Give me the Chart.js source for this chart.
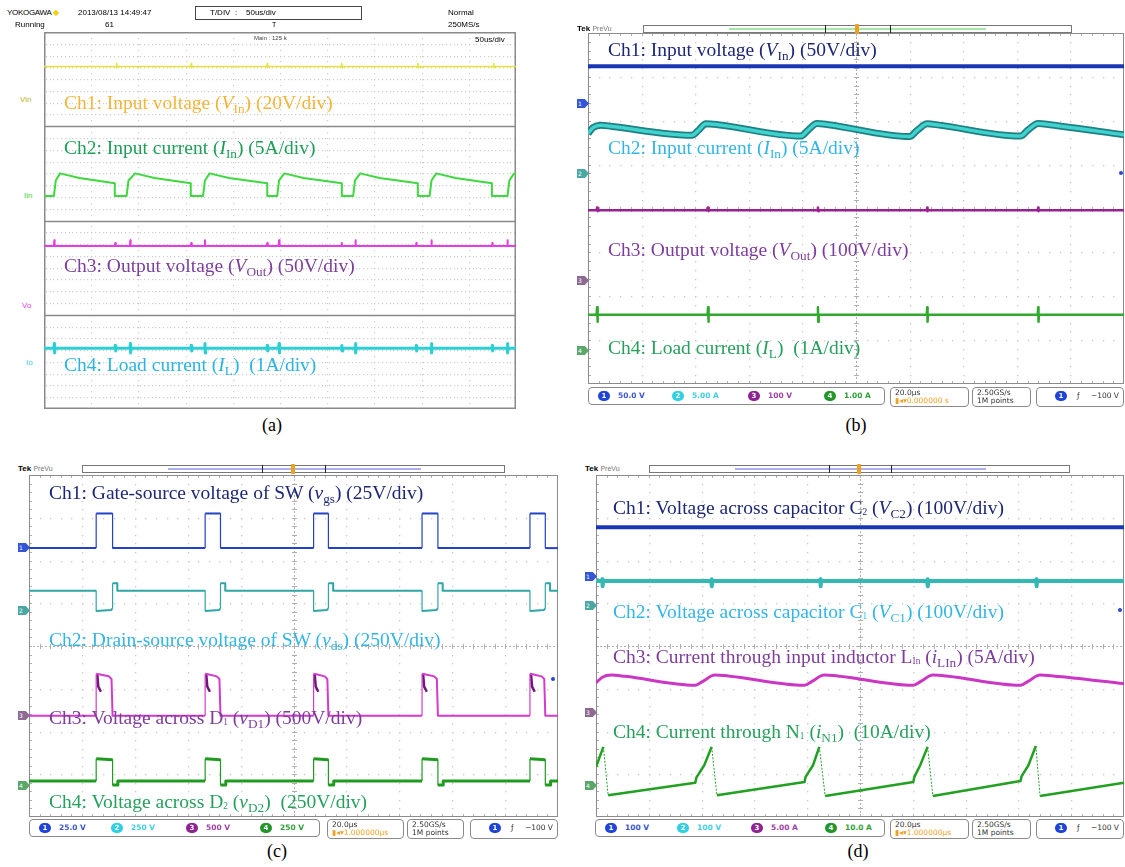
<!DOCTYPE html>
<html><head><meta charset="utf-8">
<script src="https://cdn.jsdelivr.net/npm/chart.js@4.4.1/dist/chart.umd.min.js"></script>
<style>
html,body{margin:0;padding:0;background:#fff}
#page{position:relative;width:1125px;height:867px;overflow:hidden;background:#fff;font-family:"Liberation Serif","Times New Roman",serif}
.abs{position:absolute;white-space:nowrap}
.lbl{position:absolute;white-space:nowrap;font-size:19.5px;line-height:1}
.lbl sub{font-size:0.68em;vertical-align:baseline;position:relative;top:0.32em;line-height:0}
.lbl sub.t{font-size:0.48em;top:0.12em}
.cap{position:absolute;font-size:18px;line-height:1;transform:translateX(-50%)}
.sans{font-family:"Liberation Sans","DejaVu Sans",sans-serif}
.box{position:absolute;border:1px solid #8a8a8a;border-radius:4px;box-sizing:border-box;background:#fff;font-family:"DejaVu Sans",sans-serif;font-size:7.5px;line-height:8px;color:#333}
.badge{position:absolute;top:3px;width:12px;height:10px;border-radius:5px;color:#fff;font-size:7px;line-height:10px;text-align:center;font-weight:bold}
.tab{position:absolute;width:11px;height:9px;font-family:"DejaVu Sans",sans-serif;font-size:6px;line-height:9px;color:#fff;padding-left:1px;clip-path:polygon(0 0,65% 0,100% 50%,65% 100%,0 100%)}
</style></head>
<body><div id="page"></div>
<script>
// ---------------- DATA (x in time divisions 0..10, y in vertical divisions) ----------------
// Panel (a): YOKOGAWA, 4 zones, y units 0..8 (2 per zone)
const aCh1Level = 7.27;
const aCh1Blips = [1.54, 3.12, 4.73, 6.31, 7.92, 9.53];
const aCh2 = [[0,4.52],[0.21,4.52],[0.25,4.85],[0.34,5.0],[0.75,4.90],[1.50,4.79],[1.50,4.52],
  [1.75,4.52],[1.79,4.85],[1.93,5.0],[2.34,4.90],[3.11,4.79],[3.11,4.52],
  [3.37,4.52],[3.41,4.85],[3.51,5.0],[3.92,4.90],[4.73,4.79],[4.73,4.52],
  [4.94,4.52],[4.98,4.85],[5.09,5.0],[5.50,4.90],[6.31,4.79],[6.31,4.52],
  [6.55,4.52],[6.59,4.85],[6.70,5.0],[7.11,4.90],[7.92,4.79],[7.92,4.52],
  [8.17,4.52],[8.21,4.85],[8.31,5.0],[8.72,4.90],[9.49,4.79],[9.49,4.52],
  [9.82,4.52],[9.86,4.85],[9.96,5.0],[10,5.0]];
const aCh3Level = 3.46;
const aCh4Level = 1.29;
const aTallSpikes = [0.22, 1.83, 3.41, 4.98, 6.60, 8.21, 9.82];
const aSmallSpikes = [1.51, 3.12, 4.73, 6.31, 7.89, 9.50];

// Panel (b): Tek, 10 x 8 divisions
const bCh1Level = 7.24;
const bCh2 = [[0,5.71],[0.10,5.85],[0.24,5.90],[0.45,5.87],
  [1.94,5.67],[2.06,5.78],[2.20,5.93],[2.42,5.91],
  [3.97,5.65],[4.10,5.78],[4.27,5.94],[4.49,5.91],
  [6.00,5.64],[6.14,5.78],[6.33,5.93],[6.55,5.90],
  [8.07,5.65],[8.20,5.78],[8.40,5.94],[8.62,5.91],[10,5.68]];
const bCh3Level = 3.96;
const bCh4Level = 1.58;
const bSpikes = [0.17, 2.24, 4.29, 6.33, 8.40];

// Panel (c): Tek switching waveforms
const cRise = [1.27, 3.33, 5.38, 7.43, 9.47];
const cFall = [1.58, 3.62, 5.66, 7.73, 9.76];
const cCh1Low = 6.29, cCh1High = 7.10;
const cCh2High = 5.29, cCh2Low = 4.82, cCh2Over = 5.47;
const cCh3Low = 2.37, cCh3High = 3.35, cCh3End = 3.29;
const cCh4Low = 0.84, cCh4High = 1.36, cCh4Under = 0.75;

// Panel (d): Tek
const dCh1Level = 6.78;
const dCh2Level = 5.52;
const dSpikes = [0.12, 2.19, 4.25, 6.28, 8.34];
const dCh3 = [[0,3.14],[0.12,3.27],[0.29,3.32],[0.55,3.29],[1.88,3.08],[2.03,3.18],[2.25,3.32],[2.50,3.30],
  [3.95,3.08],[4.10,3.18],[4.32,3.32],[4.57,3.30],[6.01,3.08],[6.16,3.18],[6.38,3.32],[6.63,3.30],
  [8.04,3.08],[8.19,3.18],[8.41,3.32],[8.66,3.30],[10,3.12]];
const dCh4 = [[0,1.17],[0.14,1.64],[0.23,0.51],[1.88,0.80],[1.90,0.92],[2.05,1.21],[2.19,1.64],[2.29,0.51],
  [3.95,0.82],[3.97,0.94],[4.11,1.21],[4.23,1.64],[4.34,0.49],[6.01,0.82],[6.03,0.94],[6.14,1.21],[6.28,1.64],[6.38,0.49],
  [8.04,0.84],[8.06,0.95],[8.19,1.21],[8.33,1.66],[8.41,0.49],[10,0.80]];

// Status-bar texts
const bScale = ['50.0 V','5.00 A','100 V','1.00 A'];
const cScale = ['25.0 V','250 V','500 V','250 V'];
const dScale = ['100 V','100 V','5.00 A','10.0 A'];

// ---------------- helpers ----------------
const page = document.getElementById('page');
function add(html){ page.insertAdjacentHTML('beforeend', html); }

function flatWithSpikes(level, spikes){
  const pts=[[0,level]];
  spikes.slice().sort((p,q)=>p[0]-q[0]).forEach(([s,up,down])=>{
    pts.push([s-0.01,level],[s,level+up],[s+0.005,level-down],[s+0.015,level]);
  });
  pts.push([10,level]);
  return pts;
}
function pulses(base, fn){
  const pts=[[0,base]];
  cRise.forEach((r,i)=>fn(pts,r,cFall[i]));
  pts.push([10,base]);
  return pts;
}
function ds(data,color,width,extra){
  return Object.assign({data,borderColor:color,borderWidth:width,pointRadius:0,fill:false,tension:0},extra||{});
}
// fast edges are drawn faint, as on the scope screen
const thinEdges = {segment:{borderWidth: c => Math.abs(c.p1.parsed.x - c.p0.parsed.x) < 0.005 && Math.abs(c.p1.parsed.y - c.p0.parsed.y) > 0.2 ? 1.2 : undefined}};
const faintDrops = {segment:{borderWidth: c => (c.p0.parsed.y - c.p1.parsed.y) > 0.6 ? 1 : undefined,
                             borderDash: c => (c.p0.parsed.y - c.p1.parsed.y) > 0.6 ? [2,1.5] : undefined}};

const tekGrid = {
  id:'tekGrid',
  beforeDatasetsDraw(chart){
    const {ctx, chartArea:ca, scales:{x,y}} = chart;
    ctx.save();
    ctx.fillStyle='#c8c8c8';
    for(let i=1;i<10;i++){ if(i===5) continue;
      const px=Math.round(x.getPixelForValue(i));
      for(let k=1;k<40;k++){ ctx.fillRect(px,Math.round(y.getPixelForValue(k/5)),1.3,1.3); } }
    for(let j=1;j<8;j++){ if(j===4) continue;
      const py=Math.round(y.getPixelForValue(j));
      for(let k=1;k<50;k++){ ctx.fillRect(Math.round(x.getPixelForValue(k/5)),py,1.3,1.3); } }
    const cx=Math.round(x.getPixelForValue(5))+0.5, cy=Math.round(y.getPixelForValue(4))+0.5;
    ctx.strokeStyle='#b0b0b0'; ctx.lineWidth=1;
    ctx.setLineDash([2,2]);
    ctx.beginPath(); ctx.moveTo(cx,ca.top); ctx.lineTo(cx,ca.bottom); ctx.moveTo(ca.left,cy); ctx.lineTo(ca.right,cy); ctx.stroke();
    ctx.setLineDash([]);
    ctx.beginPath();
    for(let k=1;k<40;k++){ const py=Math.round(y.getPixelForValue(k/5))+0.5; ctx.moveTo(cx-2.5,py); ctx.lineTo(cx+2.5,py);
      ctx.moveTo(ca.left,py); ctx.lineTo(ca.left+3,py); }
    for(let k=1;k<50;k++){ const px=Math.round(x.getPixelForValue(k/5))+0.5; ctx.moveTo(px,cy-2.5); ctx.lineTo(px,cy+2.5);
      ctx.moveTo(px,ca.top); ctx.lineTo(px,ca.top+3); ctx.moveTo(px,ca.bottom); ctx.lineTo(px,ca.bottom-3); }
    ctx.stroke();
    ctx.strokeStyle='#8c8c8c';
    ctx.strokeRect(ca.left+0.5,ca.top+0.5,ca.right-ca.left-1,ca.bottom-ca.top-1);
    ctx.restore();
  }
};
const yokoGrid = {
  id:'yokoGrid',
  beforeDatasetsDraw(chart){
    const {ctx, chartArea:ca, scales:{x,y}} = chart;
    ctx.save();
    ctx.fillStyle='#cdcdcd';
    for(let j=0.25;j<8;j+=0.25){ if(Math.abs(j%2)<1e-6) continue;
      const py=Math.round(y.getPixelForValue(j));
      for(let k=0.04;k<10;k+=0.08){ ctx.fillRect(Math.round(x.getPixelForValue(k)),py,1.2,1.2); } }
    for(let i=1;i<10;i++){ const px=Math.round(x.getPixelForValue(i));
      for(let k=0.125;k<8;k+=0.125){ ctx.fillRect(px,Math.round(y.getPixelForValue(k)),1.2,1.2); } }
    ctx.strokeStyle='#8a8a8a'; ctx.lineWidth=1.5;
    ctx.beginPath();
    [2,4,6].forEach(v=>{ const py=Math.round(y.getPixelForValue(v))+0.5; ctx.moveTo(ca.left,py); ctx.lineTo(ca.right,py); });
    ctx.stroke();
    ctx.strokeRect(ca.left+0.75,ca.top+0.75,ca.right-ca.left-1.5,ca.bottom-ca.top-1.5);
    ctx.restore();
  }
};

function makePanel(rect, datasets, grid){
  const wrap=document.createElement('div');
  wrap.className='abs';
  wrap.style.left=rect[0]+'px'; wrap.style.top=rect[1]+'px';
  wrap.style.width=rect[2]+'px'; wrap.style.height=rect[3]+'px';
  const cv=document.createElement('canvas');
  cv.width=rect[2]; cv.height=rect[3];
  cv.style.width=rect[2]+'px'; cv.style.height=rect[3]+'px';
  wrap.appendChild(cv); page.appendChild(wrap);
  return new Chart(cv,{type:'line',data:{datasets},
    options:{responsive:false,devicePixelRatio:1,animation:false,events:[],
      layout:{padding:0},
      plugins:{legend:{display:false},tooltip:{enabled:false}},
      elements:{point:{radius:0},line:{borderJoinStyle:'round',borderCapStyle:'butt'}},
      scales:{x:{type:'linear',min:0,max:10,display:false},y:{type:'linear',min:0,max:8,display:false}}},
    plugins:[grid]});
}

const chCol=['#1f45d8','#2fd0e2','#8f2393','#23962b'];
const chTxt=['#3a55d0','#3fcfe0','#a23fa6','#2f9f35'];
function statusBar(pos, top, scales, delay){
  const [l1,r1,l2,r2,l3,r3,l4,r4]=pos, h=18, w=r1-l1;
  let html=`<div class="box" style="left:${l1}px;top:${top}px;width:${w}px;height:${h}px">`;
  const offs=[0.03,0.28,0.535,0.79];
  scales.forEach((s,i)=>{
    html+=`<span class="badge" style="left:${Math.round(offs[i]*w)}px;background:${chCol[i]}">${i+1}</span>`+
      `<span style="position:absolute;left:${Math.round(offs[i]*w)+20}px;top:4px;color:${chTxt[i]};font-weight:bold">${s}</span>`;
  });
  html+='</div>';
  html+=`<div class="box" style="left:${l2}px;top:${top}px;width:${r2-l2}px;height:${h+2}px;padding:1px 0 0 4px"><div>20.0µs</div><div style="color:#f0a020">▮◂▾${delay}</div></div>`;
  html+=`<div class="box" style="left:${l3}px;top:${top}px;width:${r3-l3}px;height:${h+2}px;padding:1px 0 0 4px"><div>2.50GS/s</div><div>1M points</div></div>`;
  html+=`<div class="box" style="left:${l4}px;top:${top}px;width:${r4-l4}px;height:${h+2}px"><span class="badge" style="left:18px;background:${chCol[0]}">1</span><span style="position:absolute;left:40px;top:4px">ƒ</span><span style="position:absolute;right:4px;top:4px">−100 V</span></div>`;
  add(html);
}
function tekHeader(x, y, boxL, boxR, lineL, lineR, br1, br2, trig, lineCol){
  add(`<div class="abs sans" style="left:${x}px;top:${y-5}px;font-size:8px;line-height:10px"><b>Tek</b> <span style="color:#777;font-size:7px">PreVu</span></div>
  <div class="abs" style="left:${boxL}px;top:${y-4}px;width:${boxR-boxL}px;height:8px;border:1px solid #777;box-sizing:border-box"></div>
  <div class="abs" style="left:${lineL}px;top:${y-1}px;width:${lineR-lineL}px;height:2px;background:${lineCol}"></div>
  <div class="abs" style="left:${br1}px;top:${y-4}px;width:1px;height:8px;background:#222"></div>
  <div class="abs" style="left:${br2}px;top:${y-4}px;width:1px;height:8px;background:#222"></div>
  <div class="abs" style="left:${trig-2}px;top:${y-5}px;width:4px;height:10px;background:#f0a020;border-radius:1px"></div>`);
}
function tabs(x, ys, cols){
  ys.forEach((yy,i)=>add(`<div class="tab" style="left:${x}px;top:${yy-4}px;background:${cols[i]}">${i+1}</div>`));
}

// ---------------- PANEL (a) ----------------
const aSpk3 = aTallSpikes.map(s=>[s,0.12,0]).concat(aSmallSpikes.map(s=>[s,0.06,0]));
const aSpk4 = aTallSpikes.map(s=>[s,0.1,0.1]).concat(aSmallSpikes.map(s=>[s,0.06,0.06]));
makePanel([44,32,472,377],[
  ds(flatWithSpikes(aCh1Level, aCh1Blips.map(s=>[s,0.06,0.03])),'#e6e43c',1.5),
  ds(aCh2,'#3fd93f',2),
  ds(flatWithSpikes(aCh3Level, aSpk3),'#e23ee0',2),
  ds(flatWithSpikes(aCh4Level, aSpk4),'#2ccfd6',3)
], yokoGrid);

add(`<div class="abs sans" style="left:7px;top:8px;font-size:8px;line-height:10px;letter-spacing:-0.3px">YOKOGAWA <span style="color:#f3d000">◆</span></div>
<div class="abs sans" style="left:78px;top:8px;font-size:8px;line-height:10px">2013/08/13 14:49:47</div>
<div class="abs sans" style="left:15px;top:20px;font-size:8px;line-height:10px">Running</div>
<div class="abs sans" style="left:105px;top:20px;font-size:8px;line-height:10px">61</div>
<div class="abs sans" style="left:195px;top:6px;width:167px;height:14px;border:1.5px solid #444;box-sizing:border-box;font-size:8px;line-height:11px;padding-left:14px">T/DIV&nbsp;&nbsp;:&nbsp;&nbsp;&nbsp;&nbsp;50us/div</div>
<div class="abs sans" style="left:272px;top:20px;font-size:7px;line-height:9px">T</div>
<div class="abs sans" style="left:448px;top:8px;font-size:8px;line-height:10px">Normal</div>
<div class="abs sans" style="left:448px;top:20px;font-size:8px;line-height:10px">250MS/s</div>
<div class="abs sans" style="left:254px;top:34px;font-size:6px;line-height:8px;color:#444">Main : 125 k</div>
<div class="abs sans" style="left:475px;top:35px;font-size:8px;line-height:10px">50us/div</div>
<div class="abs sans" style="left:20px;top:95px;font-size:8px;line-height:10px;color:#b9b72e">Vin</div>
<div class="abs sans" style="left:24px;top:191px;font-size:8px;line-height:10px;color:#49cf49">Iin</div>
<div class="abs sans" style="left:22px;top:301px;font-size:8px;line-height:10px;color:#e040e0">Vo</div>
<div class="abs sans" style="left:26px;top:358px;font-size:8px;line-height:10px;color:#39c8e2">Io</div>
<div class="lbl" style="left:64px;top:93px;color:#f4b53a">Ch1: Input voltage (<i>V</i><sub>In</sub>) (20V/div)</div>
<div class="lbl" style="left:64px;top:138px;color:#1f9e57">Ch2: Input current (<i>I</i><sub>In</sub>) (5A/div)</div>
<div class="lbl" style="left:64px;top:256px;color:#7b3f9c">Ch3: Output voltage (<i>V</i><sub>Out</sub>) (50V/div)</div>
<div class="lbl" style="left:64px;top:355px;color:#2bb4e2">Ch4: Load current (<i>I</i><sub>L</sub>)&nbsp; (1A/div)</div>
<div class="cap" style="left:272px;top:416px">(a)</div>`);

// ---------------- PANEL (b) ----------------
makePanel([588,33,536,351],[
  ds(flatWithSpikes(bCh1Level, []),'#1937b4',4),
  ds(bCh2,'#40d2cc',3.5,{cubicInterpolationMode:'monotone',order:0}),
  ds(bCh2,'#1f7f84',7,{cubicInterpolationMode:'monotone',order:1}),
  ds(flatWithSpikes(bCh3Level, bSpikes.map(s=>[s,0.06,0.02])),'#9a2192',2.5),
  ds(flatWithSpikes(bCh4Level, bSpikes.map(s=>[s,0.17,0.16])),'#2faa2f',2.5)
], tekGrid);
tekHeader(577, 29, 643, 1072, 729, 986, 825, 890, 857, '#a6e6a6');
tabs(577,[103,173,280,350],['#3356d6','#4aa7a3','#8d6a92','#5aa76a']);
add(`<div class="abs" style="left:1119px;top:171px;width:4px;height:4px;background:#2845e0;border-radius:2px"></div>
<div class="lbl" style="left:608px;top:40px;color:#1d2775">Ch1: Input voltage (<i>V</i><sub>In</sub>) (50V/div)</div>
<div class="lbl" style="left:608px;top:138px;color:#33b5e5">Ch2: Input current (<i>I</i><sub>In</sub>) (5A/div)</div>
<div class="lbl" style="left:608px;top:240px;color:#7e3c9d">Ch3: Output voltage (<i>V</i><sub>Out</sub>) (100V/div)</div>
<div class="lbl" style="left:608px;top:338px;color:#26a05c">Ch4: Load current (<i>I</i><sub>L</sub>)&nbsp; (1A/div)</div>
<div class="cap" style="left:856px;top:416px">(b)</div>`);
statusBar([588,885,890,969,972,1031,1036,1124],387,bScale,'0.000000 s');

// ---------------- PANEL (c) ----------------
const cRing = [];
cRise.forEach(r=>{ cRing.push([r+0.02,cCh3High],[r+0.04,cCh3High-0.3],[r+0.09,cCh3High-0.42],[r+0.1,null]); });
makePanel([29,475,529,342],[
  ds(pulses(cCh1Low,(p,r,f)=>p.push([r,cCh1Low],[r,cCh1High],[f,cCh1High],[f,cCh1Low])),'#2342c8',2,thinEdges),
  ds(pulses(cCh2High,(p,r,f)=>p.push([r,cCh2High],[r,cCh2Low],[f-0.03,cCh2Low+0.02],[f,cCh2Low+0.06],[f,cCh2Over],[f+0.09,cCh2Over],[f+0.09,cCh2High])),'#2fa6a6',2,thinEdges),
  ds(pulses(cCh3Low,(p,r,f)=>p.push([r,cCh3Low],[r,cCh3High],[r+0.05,cCh3High-0.01],[f-0.07,cCh3End],[f-0.02,cCh3End-0.06],[f,cCh3Low])),'#d43bcd',2,thinEdges),
  ds(cRing,'#6d1a7a',2.5,{spanGaps:false}),
  ds(pulses(cCh4Low,(p,r,f)=>p.push([r,cCh4Low],[r,cCh4High],[f,cCh4High-0.02],[f,cCh4Under],[f+0.1,cCh4Under],[f+0.1,cCh4Low])),'#1f9b1f',3,thinEdges)
], tekGrid);
tekHeader(18, 469, 82, 505, 168, 421, 262, 325, 293, '#a9b2f2');
tabs(18,[547,610,715,785],['#3356d6','#4aa7a3','#8d6a92','#5aa76a']);
add(`<div class="abs" style="left:551px;top:677px;width:4px;height:4px;background:#2845e0;border-radius:2px"></div>
<div class="lbl" style="left:49px;top:483px;color:#1d2775">Ch1: Gate-source voltage of SW (<i>v</i><sub>gs</sub>) (25V/div)</div>
<div class="lbl" style="left:49px;top:630px;color:#33b5e5">Ch2: Drain-source voltage of SW (<i>v</i><sub>ds</sub>) (250V/div)</div>
<div class="lbl" style="left:49px;top:708px;color:#7e3c9d">Ch3: Voltage across D<sub class="t">1</sub> (<i>v</i><sub>D1</sub>) (500V/div)</div>
<div class="lbl" style="left:49px;top:792px;color:#26a05c">Ch4: Voltage across D<sub class="t">2</sub> (<i>v</i><sub>D2</sub>)&nbsp; (250V/div)</div>
<div class="cap" style="left:277px;top:842px">(c)</div>`);
statusBar([29,320,327,404,407,464,470,558],819,cScale,'1.000000µs');

// ---------------- PANEL (d) ----------------
makePanel([596,475,528,342],[
  ds(flatWithSpikes(dCh1Level, []),'#1937b4',4),
  ds(flatWithSpikes(dCh2Level, dSpikes.map(s=>[s,0.04,0.12])),'#34b8b4',4),
  ds(dCh3,'#cc36c4',3,{cubicInterpolationMode:'monotone'}),
  ds(dCh4,'#22a022',2.5,faintDrops)
], tekGrid);
tekHeader(585, 469, 649, 1070, 735, 986, 829, 891, 859, '#a9b2f2');
tabs(585,[576,605,712,785],['#3356d6','#4aa7a3','#8d6a92','#5aa76a']);
add(`<div class="abs" style="left:1118px;top:608px;width:4px;height:4px;background:#2845e0;border-radius:2px"></div>
<div class="lbl" style="left:613px;top:498px;color:#1d2775">Ch1: Voltage across capacitor C<sub class="t">2</sub> (<i>V</i><sub>C2</sub>) (100V/div)</div>
<div class="lbl" style="left:613px;top:602px;color:#33b5e5">Ch2: Voltage across capacitor C<sub class="t">1</sub> (<i>V</i><sub>C1</sub>) (100V/div)</div>
<div class="lbl" style="left:613px;top:647px;color:#7e3c9d">Ch3: Current through input inductor L<sub class="t">In</sub> (<i>i</i><sub>LIn</sub>) (5A/div)</div>
<div class="lbl" style="left:613px;top:722px;color:#26a05c">Ch4: Current through N<sub class="t">1</sub> (<i>i</i><sub>N1</sub>)&nbsp; (10A/div)</div>
<div class="cap" style="left:858px;top:842px">(d)</div>`);
statusBar([595,885,890,969,972,1031,1036,1124],819,dScale,'1.000000µs');
</script>
</body></html>
